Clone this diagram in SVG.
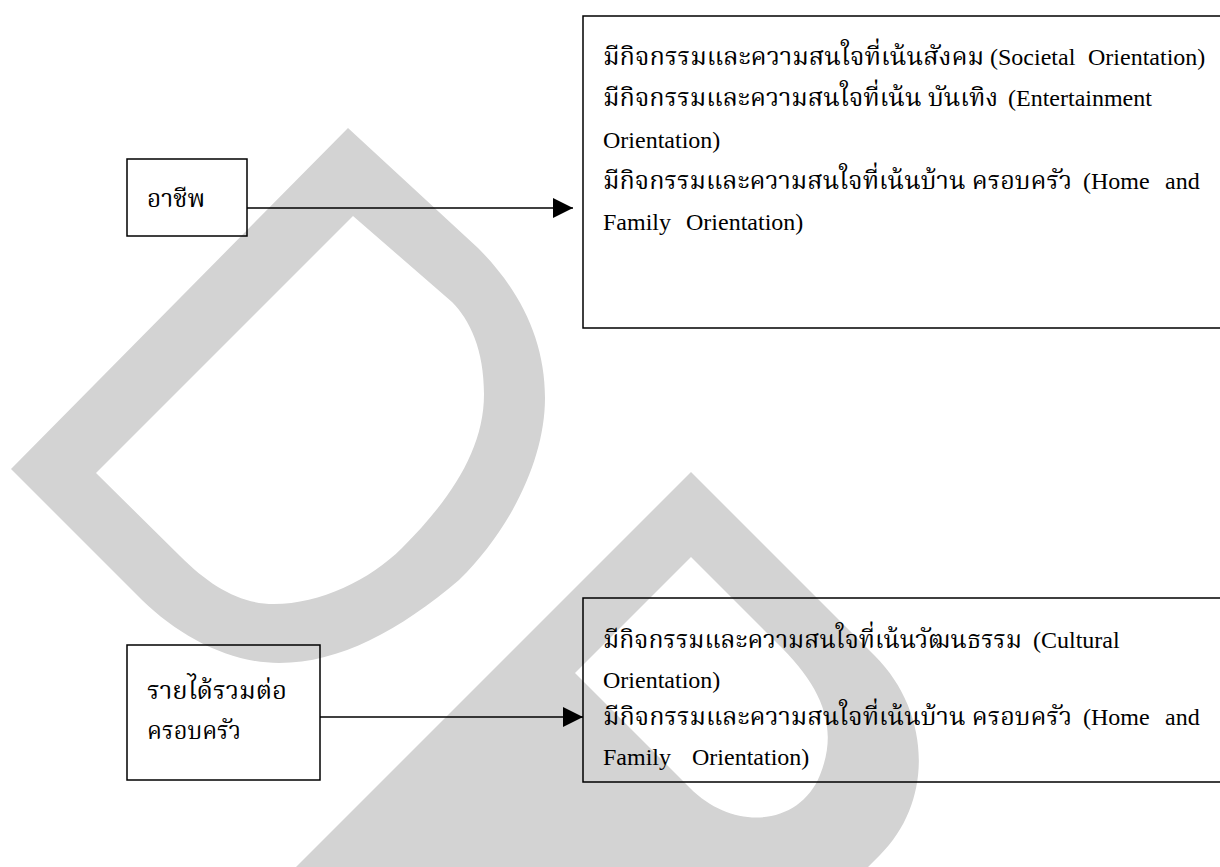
<svg xmlns="http://www.w3.org/2000/svg" width="1220" height="867" viewBox="0 0 1220 867">
<defs>
<style>
.box{fill:none;stroke:#000;stroke-width:1.5}
.wm{fill:#d3d3d3;fill-rule:evenodd;stroke:none}
.conn{stroke:#000;stroke-width:1.5;fill:none}
text{font-family:"Liberation Serif","Noto Serif Thai","Noto Sans Thai",serif;fill:#000}
.en{font-size:24px}
.th{font-size:25px}
</style>
<marker id="arr" markerUnits="userSpaceOnUse" markerWidth="22" markerHeight="22" viewBox="0 0 22 22" refX="21" refY="11" orient="auto">
<path d="M1,1 L21,11 L1,21 Z" fill="#000"/>
</marker>
</defs>
<rect width="1220" height="867" fill="#fff"/>
<g id="watermark">
<path class="wm" d="M348,128 L11,469 L142,600 C180,637 230,663 279,663 C340,663 400,630 459,580 C510,530 545,460 545,398 C545,340 520,290 478,248 Z M353,216 L96,473 L180,556 C210,586 240,604 274,604 C320,604 370,580 402,548 C450,500 484,450 484,394 C484,350 470,320 452,302 Z"/>
<path class="wm" d="M296,867 L691,472 L875,656 C930,711 935,800 880,855 L868,867 Z M691,557 L575,673 L690,788 C735,833 800,825 820,775 C840,725 820,685 777,643 Z"/>
</g>
<g id="connectors">
<line class="conn" x1="247" y1="208" x2="573" y2="208" marker-end="url(#arr)"/>
<line class="conn" x1="320" y1="717" x2="583" y2="717" marker-end="url(#arr)"/>
</g>
<g id="node-occupation">
<rect class="box" x="127" y="159" width="120" height="77"/>
<text class="th" x="147" y="207" textLength="58" lengthAdjust="spacingAndGlyphs">อาชีพ</text>
</g>
<g id="node-income">
<rect class="box" x="127" y="645" width="193" height="135"/>
<text class="th" x="147" y="699" textLength="140" lengthAdjust="spacingAndGlyphs">รายได้รวมต่อ</text>
<text class="th" x="147" y="739" textLength="94" lengthAdjust="spacingAndGlyphs">ครอบครัว</text>
</g>
<g id="node-lifestyle-occupation">
<path class="box" d="M1221,16 L583,16 L583,328 L1221,328"/>
<text class="th" x="603" y="65" textLength="381" lengthAdjust="spacingAndGlyphs">มีกิจกรรมและความสนใจที่เน้นสังคม</text>
<text class="en" x="990" y="65">(Societal</text>
<text class="en" x="1088" y="65">Orientation)</text>
<text class="th" x="603" y="106" textLength="395" lengthAdjust="spacingAndGlyphs">มีกิจกรรมและความสนใจที่เน้น บันเทิง</text>
<text class="en" x="1008" y="106">(Entertainment</text>
<text class="en" x="603" y="148">Orientation)</text>
<text class="th" x="603" y="189" textLength="469" lengthAdjust="spacingAndGlyphs">มีกิจกรรมและความสนใจที่เน้นบ้าน ครอบครัว</text>
<text class="en" x="1083" y="189">(Home</text>
<text class="en" x="1165" y="189">and</text>
<text class="en" x="603" y="230">Family</text>
<text class="en" x="686" y="230">Orientation)</text>
</g>
<g id="node-lifestyle-income">
<path class="box" d="M1221,598 L583,598 L583,782 L1221,782"/>
<text class="th" x="603" y="648" textLength="419" lengthAdjust="spacingAndGlyphs">มีกิจกรรมและความสนใจที่เน้นวัฒนธรรม</text>
<text class="en" x="1033" y="648">(Cultural</text>
<text class="en" x="603" y="688">Orientation)</text>
<text class="th" x="603" y="725" textLength="469" lengthAdjust="spacingAndGlyphs">มีกิจกรรมและความสนใจที่เน้นบ้าน ครอบครัว</text>
<text class="en" x="1083" y="725">(Home</text>
<text class="en" x="1165" y="725">and</text>
<text class="en" x="603" y="765">Family</text>
<text class="en" x="692" y="765">Orientation)</text>
</g>
</svg>
